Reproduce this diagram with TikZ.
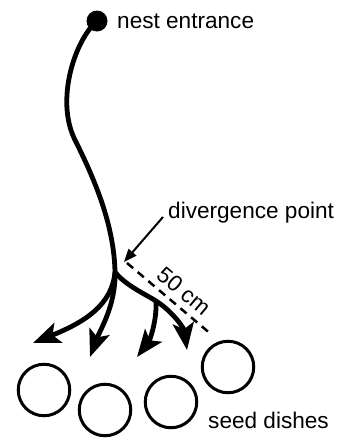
\documentclass[tikz,border=0pt]{standalone}
\usepackage{fontspec}
\setmainfont{Liberation Sans}
\usetikzlibrary{arrows.meta, positioning}

\tikzset{
  trail/.style={line width=4.8pt, -{Stealth[length=27pt, width=21pt, inset=6pt]}},
  dish/.style={draw, circle, line width=3pt, minimum size=51.5pt, inner sep=0pt},
  lbl/.style={inner sep=0pt, anchor=base west}
}

\begin{document}
\begin{tikzpicture}[x=1pt, y=-1pt, font=\fontsize{22.6}{27}\selectfont]
    \useasboundingbox (0,0) rectangle (341,439);
    \node[circle, fill, inner sep=0pt, minimum size=21pt] (nest) at (97,21) {};
    \node[lbl] (nestlbl) at (117,28) {nest entrance};
    \coordinate (div) at (115,272);
    \coordinate (fork) at (156,301);
    \draw[line width=4.8pt] (nest.center) .. controls (75,40) and (55,100) .. (75,140)
          .. controls (95,180) and (114,225) .. (div);
    \draw[line width=4.8pt] (div) .. controls (125,285) and (145,294) .. (fork);
    % trails to the dishes
    \coordinate (t1) at (33,343); \coordinate (t2) at (90,357);
    \coordinate (t3) at (137,357); \coordinate (t4) at (187,350);
    \draw[trail] (div) .. controls (112,305) and (85,322) .. (t1);
    \draw[trail] (div) .. controls (116,305) and (100,330) .. (t2);
    \draw[trail] (fork) .. controls (157,320) and (150,340) .. (t3);
    \draw[trail] (fork) .. controls (172,311) and (184,328) .. (t4);
    % divergence point and distance
    \node[lbl] (divlbl) at (168,218) {divergence point};
    \coordinate (ptr) at (163,217); \coordinate (ptrtip) at (124,262);
    \draw[line width=2pt, -{Triangle[length=13pt, width=10pt]}] (ptr) -- (ptrtip);
    \coordinate (d0) at (127,263); \coordinate (d1) at (212,335);
    \draw[line width=2.5pt, dash pattern=on 8pt off 6pt] (d0) -- (d1);
    \node[rotate=-40, inner sep=0pt] (dist) at (184,291) {50 cm};
    % seed dishes
    \node[dish] (s1) at (44,390) {};
    \node[dish] (s2) at (105,410) {};
    \node[dish] (s3) at (171,402) {};
    \node[dish] (s4) at (228,367) {};
    \node[lbl] (seedlbl) at (208,428) {seed dishes};
  \end{tikzpicture}
\end{document}
